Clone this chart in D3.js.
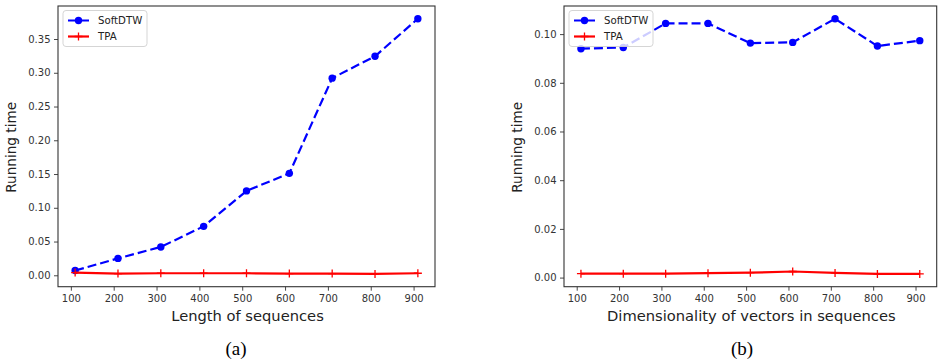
<!DOCTYPE html>
<html><head><meta charset="utf-8">
<script src="https://cdn.jsdelivr.net/npm/d3@7"></script>
<style>body{margin:0;background:#fff}svg{display:block}</style>
</head><body>
<svg id="c" width="938" height="360"></svg>
<script>
const xValues = [110, 210, 310, 410, 510, 610, 710, 810, 910];
const softdtwLength = [0.007, 0.025, 0.042, 0.0725, 0.125, 0.151, 0.292, 0.3245, 0.38];
const tpaLength = [0.004, 0.0025, 0.003, 0.003, 0.003, 0.0025, 0.0025, 0.002, 0.003];
const softdtwDim = [0.094, 0.0945, 0.1044, 0.1044, 0.0963, 0.0966, 0.1063, 0.0951, 0.0973];
const tpaDim = [0.0016, 0.0016, 0.0016, 0.0018, 0.002, 0.0025, 0.0019, 0.0015, 0.0015];
const xTicks = [100, 200, 300, 400, 500, 600, 700, 800, 900];
const yTicksA = [0, 0.05, 0.10, 0.15, 0.20, 0.25, 0.30, 0.35];
const yTicksB = [0, 0.02, 0.04, 0.06, 0.08, 0.10];
const seriesNames = ["SoftDTW", "TPA"];
const xLabels = ["Length of sequences", "Dimensionality of vectors in sequences"];
const yLabel = "Running time";
const captions = ["(a)", "(b)"];

const svg = d3.select("#c");
const font = "DejaVu Sans, sans-serif";

function panel(o) {
  const g = svg.append("g");
  const x = d3.scaleLinear().domain([70, 950]).range([o.x0, o.x1]);
  const all = o.s1.concat(o.s2);
  const mn = d3.min(all), mx = d3.max(all), m = (mx - mn) * 0.05;
  const y = d3.scaleLinear().domain([mn - m, mx + m]).range([o.y1, o.y0]);

  // axes
  const xa = g.append("g").attr("transform", `translate(0,${o.y1})`)
    .call(d3.axisBottom(x).tickValues(xTicks).tickSize(4).tickPadding(4.5).tickFormat(d3.format("d")));
  const ya = g.append("g").attr("transform", `translate(${o.x0},0)`)
    .call(d3.axisLeft(y).tickValues(o.yTicks).tickSize(4).tickPadding(3.5).tickFormat(d3.format(o.fmt)));
  [xa, ya].forEach(a => {
    a.select(".domain").remove();
    a.selectAll("line").attr("stroke", "#333").attr("stroke-width", 0.9);
    a.selectAll("text").attr("font-family", font).attr("font-size", 10).attr("fill", "#333");
  });
  g.append("rect").attr("x", o.x0).attr("y", o.y0).attr("width", o.x1 - o.x0).attr("height", o.y1 - o.y0)
    .attr("fill", "none").attr("stroke", "#333").attr("stroke-width", 1.1);

  const line = d3.line().x((d, i) => x(xValues[i])).y(d => y(d));
  g.append("path").datum(o.s1).attr("d", line).attr("fill", "none")
    .attr("stroke", "#0000ff").attr("stroke-width", 2.2).attr("stroke-dasharray", "9,4");
  g.selectAll(".dot").data(o.s1).enter().append("circle")
    .attr("cx", (d, i) => x(xValues[i])).attr("cy", d => y(d)).attr("r", 3.7).attr("fill", "#0000ff");
  g.append("path").datum(o.s2).attr("d", line).attr("fill", "none")
    .attr("stroke", "#ff0000").attr("stroke-width", 2.2);
  g.selectAll(".plus").data(o.s2).enter().append("path")
    .attr("d", (d, i) => { const cx = x(xValues[i]), cy = y(d); return `M${cx - 4},${cy}H${cx + 4}M${cx},${cy - 4}V${cy + 4}`; })
    .attr("stroke", "#ff0000").attr("stroke-width", 1.3);

  // legend
  const lx = o.x0 + 5, ly = o.y0 + 4.5;
  const lg = g.append("g");
  lg.append("rect").attr("x", lx).attr("y", ly).attr("width", 84).attr("height", 36).attr("rx", 3)
    .attr("fill", "#fff").attr("fill-opacity", 0.8).attr("stroke", "#d0d0d0").attr("stroke-width", 0.9);
  seriesNames.forEach((nm, i) => {
    const cy = ly + 10 + i * 16;
    if (i === 0) {
      lg.append("line").attr("x1", lx + 5).attr("x2", lx + 26).attr("y1", cy).attr("y2", cy)
        .attr("stroke", "#0000ff").attr("stroke-width", 2.2).attr("stroke-dasharray", "9,4");
      lg.append("circle").attr("cx", lx + 15.5).attr("cy", cy).attr("r", 3.7).attr("fill", "#0000ff");
    } else {
      lg.append("line").attr("x1", lx + 5).attr("x2", lx + 26).attr("y1", cy).attr("y2", cy)
        .attr("stroke", "#ff0000").attr("stroke-width", 2.2);
      lg.append("path").attr("d", `M${lx + 11.5},${cy}H${lx + 19.5}M${lx + 15.5},${cy - 4}V${cy + 4}`)
        .attr("stroke", "#ff0000").attr("stroke-width", 1.3);
    }
    lg.append("text").attr("x", lx + 35).attr("y", cy).attr("dy", "0.35em")
      .attr("font-family", font).attr("font-size", 10.2).attr("fill", "#222").text(nm);
  });

  // labels
  g.append("text").attr("x", (o.x0 + o.x1) / 2 + 1).attr("y", 321).attr("text-anchor", "middle")
    .attr("font-family", font).attr("font-size", 14.7).attr("fill", "#222").text(o.xl);
  g.append("text").attr("transform", `translate(${o.ylx},${(o.y0 + o.y1) / 2 + 1}) rotate(-90)`)
    .attr("text-anchor", "middle").attr("font-family", font).attr("font-size", 13.6).attr("fill", "#222").text(yLabel);
  g.append("text").attr("x", o.capx).attr("y", 355).attr("text-anchor", "middle")
    .attr("font-family", "Liberation Serif, Times New Roman, serif").attr("font-size", 19).attr("fill", "#000").text(o.cap);
}

panel({x0: 58, x1: 435, y0: 6, y1: 286.7, s1: softdtwLength, s2: tpaLength, yTicks: yTicksA, fmt: ".2f",
  xl: xLabels[0], ylx: 16, capx: 236, cap: captions[0]});
panel({x0: 564, x1: 936.7, y0: 6, y1: 286.7, s1: softdtwDim, s2: tpaDim, yTicks: yTicksB, fmt: ".2f",
  xl: xLabels[1], ylx: 522, capx: 742, cap: captions[1]});
</script>
</body></html>
